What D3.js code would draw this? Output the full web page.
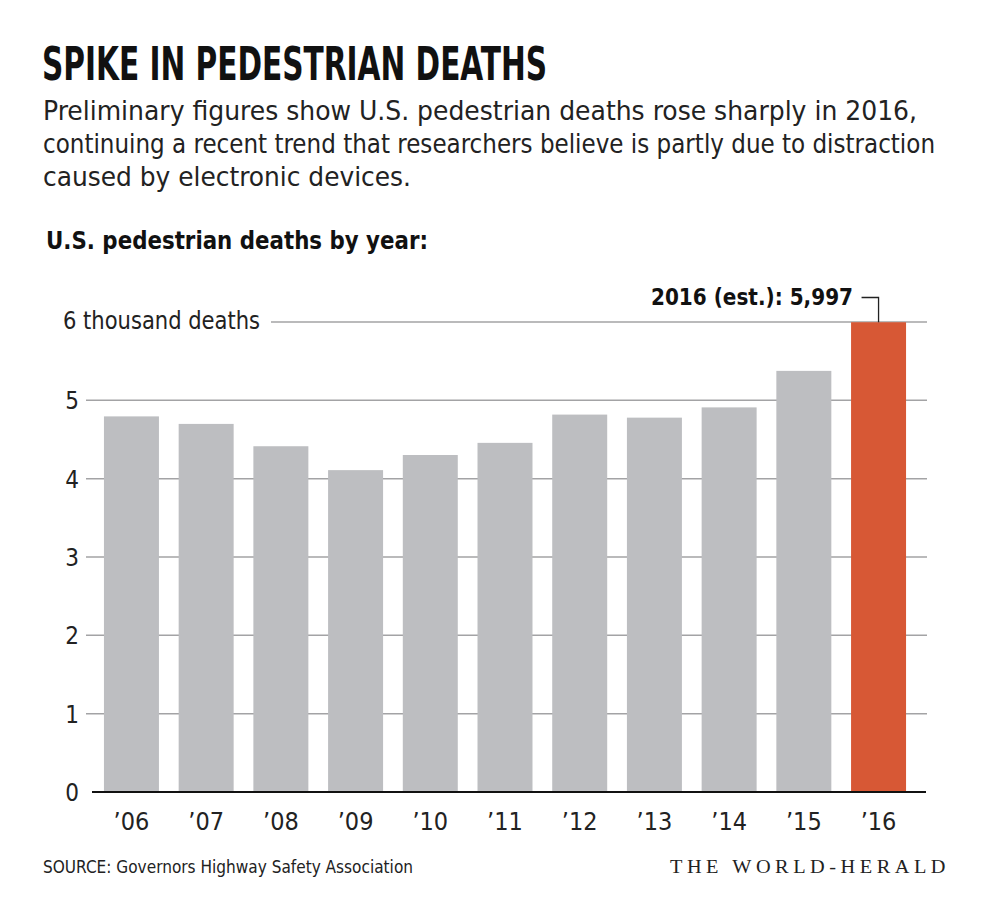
<!DOCTYPE html>
<html><head><meta charset="utf-8">
<script src="https://cdn.jsdelivr.net/npm/d3@7"></script>
<style>html,body{margin:0;padding:0;background:#fff}</style>
</head><body>
<script>
const years = ["’06","’07","’08","’09","’10","’11","’12","’13","’14","’15","’16"];
const deaths = [4795,4699,4414,4109,4302,4457,4818,4779,4910,5376,5997];
const highlight = [false,false,false,false,false,false,false,false,false,false,true];
const yTicks = [0,1,2,3,4,5,6];
const yTickLabels = ["0","1","2","3","4","5","6 thousand deaths"];

const W = 991, H = 920;
const svg = d3.select("body").append("svg").attr("width",W).attr("height",H);
const cond = "'Liberation Sans Narrow','DejaVu Sans Condensed','Roboto Condensed',sans-serif";

function txt(s, x, y, size, weight, len, family, fill, anchor){
  const t = svg.append("text").attr("x",x).attr("y",y).text(s)
    .attr("font-family", family||cond).attr("font-size",size)
    .attr("font-weight",weight||"normal").attr("fill",fill||"#222")
    .attr("text-anchor",anchor||"start");
  if(len){t.attr("textLength",len).attr("lengthAdjust","spacingAndGlyphs");}
  return t;
}

txt("SPIKE IN PEDESTRIAN DEATHS",42,80,47,"bold",505,null,"#111");
txt("Preliminary figures show U.S. pedestrian deaths rose sharply in 2016,",43,120,27,"normal",874);
txt("continuing a recent trend that researchers believe is partly due to distraction",43,153,27,"normal",892);
txt("caused by electronic devices.",43,186,27,"normal",368);
txt("U.S. pedestrian deaths by year:",46,249,25,"bold",382,null,"#111");

const x = d3.scaleBand().domain(years).range([92,918]).paddingInner(0.264).paddingOuter(0.16);
const y = d3.scaleLinear().domain([0,6]).range([792,322]);

// gridlines
const grid = svg.append("g");
yTicks.filter(d=>d>0).forEach(d=>{
  grid.append("line").attr("x1", d===6?271:86).attr("x2",927)
    .attr("y1",y(d)).attr("y2",y(d)).attr("stroke","#a3a3a5").attr("stroke-width",1.5);
});
// tick labels
yTicks.forEach((d,i)=>{
  if(d===6) txt(yTickLabels[i],63,329,24,"normal",197);
  else txt(yTickLabels[i],79,y(d)+9,24,"normal",null,null,"#222","end");
});

// bars
svg.append("g").selectAll("rect").data(years).join("rect")
  .attr("x",d=>x(d)).attr("width",x.bandwidth())
  .attr("y",(d,i)=>y(deaths[i]/1000)).attr("height",(d,i)=>y(0)-y(deaths[i]/1000))
  .attr("fill",(d,i)=>highlight[i]?"#d75835":"#bdbec1");

// baseline
svg.append("line").attr("x1",92).attr("x2",926).attr("y1",y(0)).attr("y2",y(0))
  .attr("stroke","#111").attr("stroke-width",2);

// x labels
years.forEach(d=>{
  txt(d, x(d)+x.bandwidth()/2, 830, 25, "normal", null, null, "#222", "middle");
});

// annotation
const last = years[years.length-1];
const cx = x(last)+x.bandwidth()/2;
txt("2016 (est.): 5,997",651,305,23,"bold",202,null,"#111");
svg.append("path").attr("d",`M${cx-17},${297.5}H${cx}V${y(deaths[10]/1000)}`)
  .attr("fill","none").attr("stroke","#222").attr("stroke-width",1.3);

txt("SOURCE: Governors Highway Safety Association",43,873,18,"normal",370);
txt("THE WORLD-HERALD",670,873,18,"normal",280,"'Liberation Serif','DejaVu Serif',serif","#222").attr("letter-spacing","4");
</script>
</body></html>
